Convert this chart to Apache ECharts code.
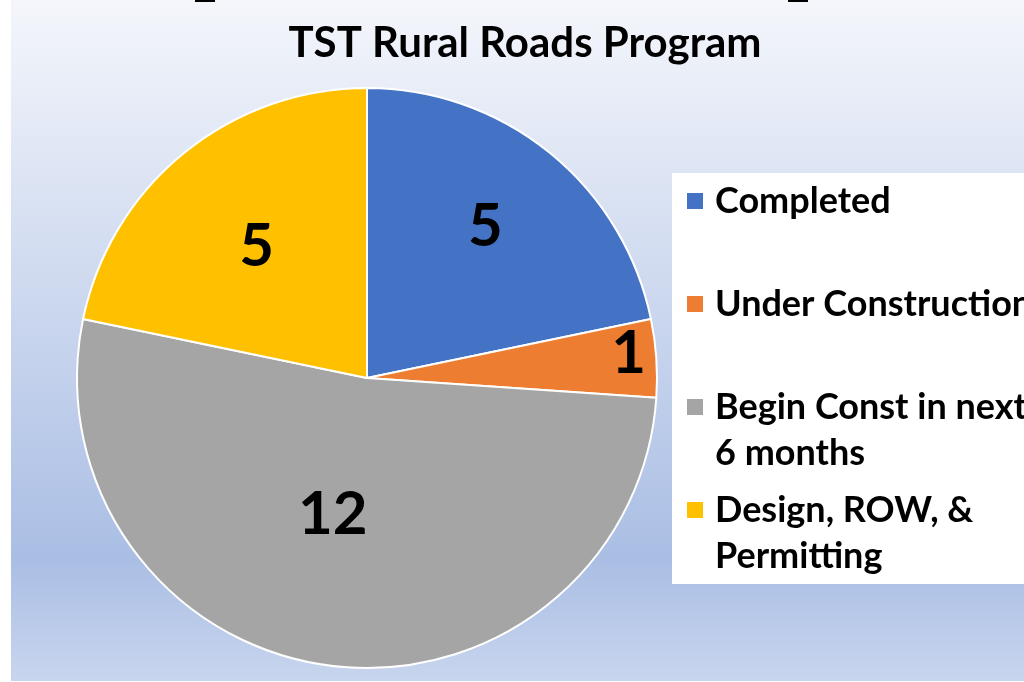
<!DOCTYPE html>
<html>
<head>
<meta charset="utf-8">
<script src="https://cdn.jsdelivr.net/npm/echarts@6/dist/echarts.min.js"></script>
<style>
  html, body { margin: 0; padding: 0; background: #fff; }
  #chart { width: 1024px; height: 682px; }
</style>
</head>
<body>
<div id="chart"></div>
<script>
// data
const categories = ['Completed', 'Under Construction', 'Begin Const in next 6 months', 'Design, ROW, & Permitting'];
const values = [5, 1, 12, 5];
const legendLabels = ['Completed', 'Under Construction', '\nBegin Const in next\n6 months', '\nDesign, ROW, &\nPermitting'];
const colors = ['#4472c4', '#ed7d31', '#a5a5a5', '#ffc000'];

// label nudges (Excel best-fit placement)
const labelOffsets = [[25, -37], [114, -14], [-14, -10], [-17, -17]];
const legendTops = [178, 281, 338, 441];

const FONT = 'Lato';
const chart = echarts.init(document.getElementById('chart'));

const legends = categories.map((name, i) => ({
  data: [name],
  orient: 'vertical',
  left: 685,
  top: legendTops[i],
  padding: 0,
  itemWidth: 18,
  itemHeight: 18,
  icon: 'rect',
  selectedMode: false,
  formatter: (n) => legendLabels[categories.indexOf(n)],
  textStyle: {
    fontFamily: FONT,
    fontWeight: 'bold',
    fontSize: 36,
    lineHeight: 46,
    color: '#000',
    padding: [0, 0, 0, 6]
  }
}));

const option = {
  animation: false,
  color: colors,
  graphic: [
    {
      type: 'rect',
      shape: { x: 11, y: 0, width: 1013, height: 681 },
      style: {
        fill: {
          type: 'linear', x: 0, y: 0, x2: 0, y2: 1,
          colorStops: [
            { offset: 0, color: '#f4f6fb' },
            { offset: 0.82, color: '#aabee4' },
            { offset: 1, color: '#c8d5ee' }
          ]
        }
      },
      z: -10
    },
    { type: 'rect', shape: { x: 195, y: 0, width: 20, height: 2 }, style: { fill: '#000' }, z: -9 },
    { type: 'rect', shape: { x: 788, y: 0, width: 20, height: 2 }, style: { fill: '#000' }, z: -9 },
    {
      type: 'rect',
      shape: { x: 672, y: 173, width: 360, height: 411 },
      style: { fill: '#fff' },
      z: -8
    }
  ],
  title: {
    text: 'TST Rural Roads Program',
    left: 525,
    top: 22,
    padding: 0,
    textAlign: 'center',
    textStyle: { fontFamily: FONT, fontWeight: 'bold', fontSize: 42, color: '#000' }
  },
  legend: legends,
  series: [
    {
      type: 'pie',
      center: [367, 378],
      radius: 290,
      startAngle: 90,
      clockwise: true,
      avoidLabelOverlap: false,
      itemStyle: { borderColor: '#fff', borderWidth: 2 },
      label: {
        show: true,
        position: 'inside',
        formatter: '{c}',
        fontFamily: FONT,
        fontWeight: 'bold',
        fontSize: 60,
        color: '#000'
      },
      labelLine: { show: false },
      data: categories.map((name, i) => ({
        name: name,
        value: values[i],
        label: { offset: labelOffsets[i] }
      }))
    }
  ]
};

chart.setOption(option);
</script>
</body>
</html>
